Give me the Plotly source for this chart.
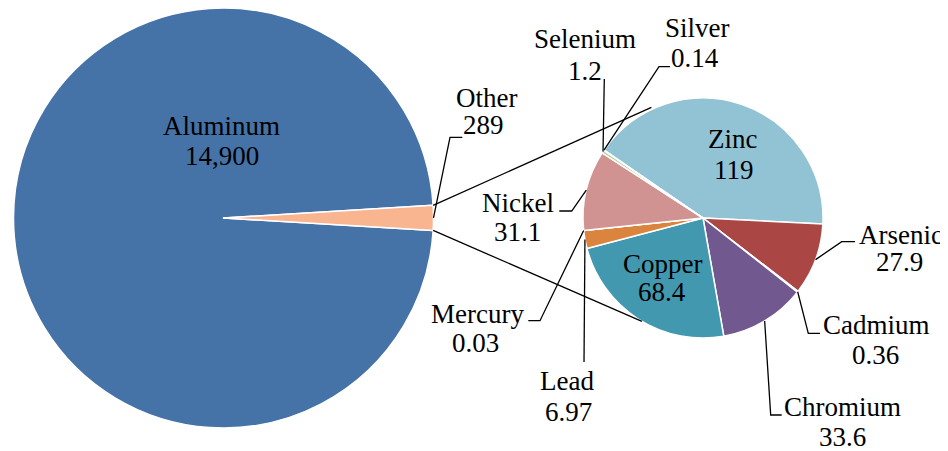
import math
import plotly.graph_objects as go

# ---------------- data ----------------
big_labels = ["Aluminum", "Other"]
big_values = [14900, 289]

small_labels = ["Zinc", "Arsenic", "Cadmium", "Chromium", "Copper",
                "Lead", "Mercury", "Nickel", "Selenium", "Silver"]
small_values = [119, 27.9, 0.36, 33.6, 68.4, 6.97, 0.03, 31.1, 1.2, 0.14]

big_colors = ["#4572A7", "#F9B590"]
small_colors = ["#92C3D4", "#AA4643", "#89A54E", "#71588F", "#4198AF",
                "#DB843D", "#93A9CF", "#D19392", "#B9CD96", "#A99BBD"]

# ---------------- layout constants (screen pixels) ----------------
OFF = 8  # page body margin
W, H = 948 - OFF, 451 - OFF
BIG_C, BIG_R, BIG_ROT = (223.5, 218.0), 210.0, 93.4
SM_C, SM_R, SM_ROT = (703.0, 218.0), 120.0, -55.5

FONT = dict(family="'Times New Roman', 'Liberation Serif', Tinos, 'DejaVu Serif', serif",
            size=27, color="black")


def xp(x):
    return (x - OFF) / W


def yp(y):
    return 1 - (y - OFF) / H


def dom(c, r):
    return dict(x=[max(0, xp(c[0] - r)), min(1, xp(c[0] + r))],
                y=[max(0, yp(c[1] + r)), min(1, yp(c[1] - r))])


def mid_angles(values, rot):
    tot = sum(values)
    out, start = [], rot
    for v in values:
        a = v / tot * 360
        out.append((start, start + a / 2, start + a))
        start += a
    return out


def on_circle(c, r, ang):
    t = math.radians(ang)
    return (c[0] + r * math.sin(t), c[1] - r * math.cos(t))


fig = go.Figure()
fig.add_trace(go.Pie(
    labels=big_labels, values=big_values, sort=False, direction="clockwise",
    rotation=BIG_ROT, textinfo="none", hoverinfo="label+value",
    marker=dict(colors=big_colors, line=dict(color="white", width=1.5)),
    domain=dom(BIG_C, BIG_R), showlegend=False))
fig.add_trace(go.Pie(
    labels=small_labels, values=small_values, sort=False, direction="clockwise",
    rotation=SM_ROT, textinfo="none", hoverinfo="label+value",
    marker=dict(colors=small_colors, line=dict(color="white", width=1.5)),
    domain=dom(SM_C, SM_R), showlegend=False))

# label text positions (name line, value line) in screen pixels
label_pos = {
    "Aluminum": ((221.7, 126), (221.7, 156)),
    "Other": ((486, 98), (484, 125)),
    "Zinc": ((732, 139), (734, 170)),
    "Arsenic": ((901, 235), (899, 262)),
    "Cadmium": ((876, 325), (875, 354.5)),
    "Chromium": ((842, 407), (842.5, 437)),
    "Copper": ((662, 264), (662, 292)),
    "Lead": ((567, 381), (568, 412)),
    "Mercury": ((477, 314), (475, 342.5)),
    "Nickel": ((517.5, 203), (517, 232)),
    "Selenium": ((585, 39), (585, 71)),
    "Silver": ((697, 27.5), (695, 58)),
}

# leader line elbows (screen pixels); the start is computed from the slice angle
leader_pts = {
    "Other": [(450, 137.3), (462.3, 137.3)],
    "Nickel": [(571.7, 211), (559.3, 211)],
    "Selenium": [(604.3, 79)],
    "Silver": [(659, 66.7), (670, 66.7)],
    "Mercury": [(540, 320.7), (528.3, 320.7)],
    "Lead": [(584, 362)],
    "Arsenic": [(841.7, 241.7), (855, 241.7)],
    "Cadmium": [(808.3, 333.3), (820, 333.3)],
    "Chromium": [(770.7, 415), (781.7, 415)],
}


def fmt(v):
    return f"{v:,}"


annotations = []
for labels, values in ((big_labels, big_values), (small_labels, small_values)):
    for name, v in zip(labels, values):
        (nx, ny), (vx, vy) = label_pos[name]
        annotations.append(dict(x=xp(nx), y=yp(ny), xref="paper", yref="paper",
                                text=name, showarrow=False, font=FONT,
                                xanchor="center", yanchor="middle"))
        annotations.append(dict(x=xp(vx), y=yp(vy), xref="paper", yref="paper",
                                text=fmt(v), showarrow=False, font=FONT,
                                xanchor="center", yanchor="middle"))

shapes = []
line_style = dict(color="black", width=1.3)


def path(points):
    d = "M " + " L ".join(f"{xp(x):.5f},{yp(y):.5f}" for x, y in points)
    return dict(type="path", path=d, xref="paper", yref="paper", line=line_style)


big_ang = mid_angles(big_values, BIG_ROT)
sm_ang = mid_angles(small_values, SM_ROT)
starts = {}
for name, a in zip(big_labels, big_ang):
    starts[name] = on_circle(BIG_C, BIG_R, a[1])
for name, a in zip(small_labels, sm_ang):
    starts[name] = on_circle(SM_C, SM_R, a[1])

for name, pts in leader_pts.items():
    shapes.append(path([starts[name]] + pts))

# series lines linking the "Other" slice to the second pie
o_start, _, o_end = big_ang[1]
p1 = on_circle(BIG_C, BIG_R, o_start)
p2 = on_circle(BIG_C, BIG_R, o_end)
q1 = on_circle(SM_C, SM_R + 2, -25.0)
q2 = on_circle(SM_C, SM_R, 210.6)
shapes.append(path([p1, q1]))
shapes.append(path([p2, q2]))

fig.update_layout(
    width=W, height=H, margin=dict(l=0, r=0, t=0, b=0),
    paper_bgcolor="white", plot_bgcolor="white",
    font=FONT,
    annotations=annotations, shapes=shapes, showlegend=False,
)
fig.write_html("out.html")
